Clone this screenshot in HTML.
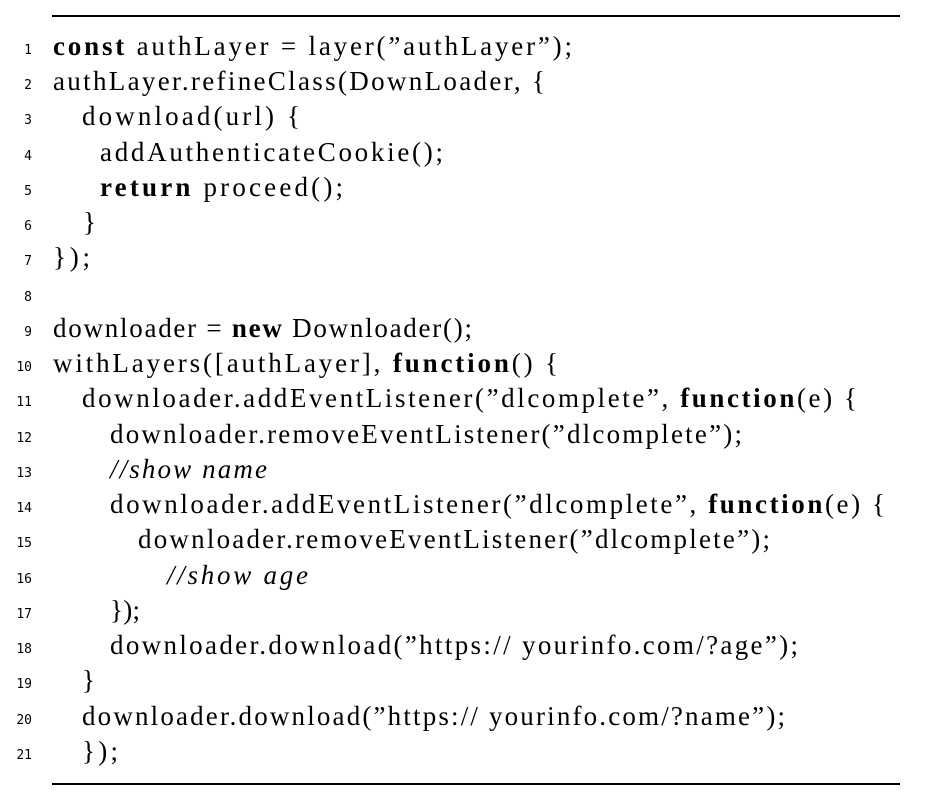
<!DOCTYPE html>
<html><head><meta charset="utf-8"><style>
html,body{margin:0;padding:0;background:#fff;}
svg{display:block;}
.c{font-family:"Liberation Serif",serif;font-size:27px;fill:#000;}
.n{font-family:"DejaVu Sans Mono","Liberation Mono",monospace;font-size:13px;fill:#000;}
</style></head><body>
<svg width="952" height="800" viewBox="0 0 952 800" xmlns="http://www.w3.org/2000/svg">
<line x1="52" y1="16" x2="900" y2="16" stroke="#000" stroke-width="2"/>
<line x1="52" y1="784" x2="900" y2="784" stroke="#000" stroke-width="2"/>
<g class="n" text-anchor="end">
<text x="32" y="54">1</text><text x="32" y="89">2</text><text x="32" y="124">3</text>
<text x="32" y="160">4</text><text x="32" y="195">5</text><text x="32" y="230">6</text>
<text x="32" y="265">7</text><text x="32" y="301">8</text><text x="32" y="336">9</text>
<text x="32" y="371">10</text><text x="32" y="406">11</text><text x="32" y="442">12</text>
<text x="32" y="477">13</text><text x="32" y="512">14</text><text x="32" y="547">15</text>
<text x="32" y="583">16</text><text x="32" y="618">17</text><text x="32" y="653">18</text>
<text x="32" y="688">19</text><text x="32" y="724">20</text><text x="32" y="759">21</text>
</g>
<g class="c" xml:space="preserve">
<text x="53" y="55" textLength="519" lengthAdjust="spacing"><tspan font-weight="bold">const</tspan> authLayer = layer(”authLayer”);</text>
<text x="53" y="90" textLength="492" lengthAdjust="spacing">authLayer.refineClass(DownLoader, {</text>
<text x="82" y="125" textLength="218" lengthAdjust="spacing">download(url) {</text>
<text x="100" y="161" textLength="343" lengthAdjust="spacing">addAuthenticateCookie();</text>
<text x="100" y="196" textLength="243" lengthAdjust="spacing"><tspan font-weight="bold">return</tspan> proceed();</text>
<text x="83" y="231">}</text>
<text x="53" y="266" textLength="37" lengthAdjust="spacing">});</text>
<text x="53" y="337" textLength="419" lengthAdjust="spacing">downloader = <tspan font-weight="bold">new</tspan> Downloader();</text>
<text x="53" y="372" textLength="505" lengthAdjust="spacing">withLayers([authLayer], <tspan font-weight="bold">function</tspan>() {</text>
<text x="82" y="407" textLength="775" lengthAdjust="spacing">downloader.addEventListener(”dlcomplete”, <tspan font-weight="bold">function</tspan>(e) {</text>
<text x="110" y="443" textLength="632" lengthAdjust="spacing">downloader.removeEventListener(”dlcomplete”);</text>
<text x="110" y="478" font-style="italic" textLength="157" lengthAdjust="spacing">//show name</text>
<text x="110" y="513" textLength="775" lengthAdjust="spacing">downloader.addEventListener(”dlcomplete”, <tspan font-weight="bold">function</tspan>(e) {</text>
<text x="138" y="548" textLength="632" lengthAdjust="spacing">downloader.removeEventListener(”dlcomplete”);</text>
<text x="167" y="584" font-style="italic" textLength="141" lengthAdjust="spacing">//show age</text>
<text x="110" y="619" textLength="30" lengthAdjust="spacing">});</text>
<text x="110" y="654" textLength="688" lengthAdjust="spacing">downloader.download(”https:// yourinfo.com/?age”);</text>
<text x="82" y="689">}</text>
<text x="82" y="725" textLength="703" lengthAdjust="spacing">downloader.download(”https:// yourinfo.com/?name”);</text>
<text x="82" y="760" textLength="36" lengthAdjust="spacing">});</text>
</g>
</svg>
</body></html>
